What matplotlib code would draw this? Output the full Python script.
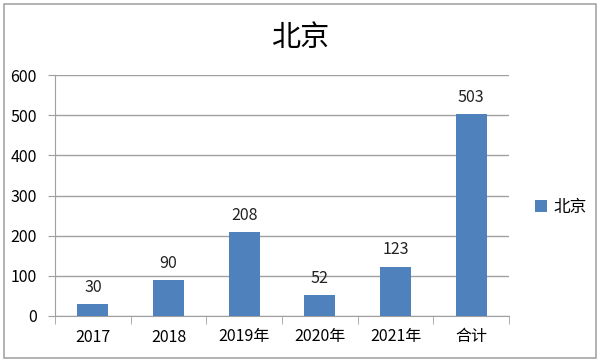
import matplotlib
matplotlib.use("Agg")
import matplotlib.pyplot as plt
from matplotlib.patches import Rectangle

plt.rcParams['font.family'] = ['Noto Sans CJK SC', 'DejaVu Sans']

categories = ["2017", "2018", "2019年", "2020年", "2021年", "合计"]
values = [30, 90, 208, 52, 123, 503]
series_name = "北京"
yticks = [0, 100, 200, 300, 400, 500, 600]

fig = plt.figure(figsize=(6, 3.62), dpi=100)
fig.patches.append(Rectangle((4/600, 4/362), 592/600, 354/362, transform=fig.transFigure,
                             fill=False, edgecolor="#a6a6a6", linewidth=1.2))
ax = fig.add_axes([55/600, 1 - 316/362, (509 - 55)/600, (316 - 75)/362])

x = range(len(categories))
bars = ax.bar(x, values, width=0.41, color="#4F81BD", label=series_name, zorder=3)
for xi, v in zip(x, values):
    ax.annotate(str(v), (xi, v), xytext=(0, 6), textcoords="offset points",
                ha="center", va="bottom", fontsize=11.5, color="#222222")

ax.set_xlim(-0.5, len(categories) - 0.5)
ax.set_ylim(0, 600)
ax.set_yticks(yticks)
ax.set_yticklabels([str(t) for t in yticks], fontsize=11.5)
ax.yaxis.grid(True, color="#a0a0a0", linewidth=1, zorder=0)
ax.tick_params(axis="y", length=5, color="#a0a0a0", pad=8)

ax.set_xticks(list(x))
ax.set_xticklabels(categories, fontsize=11.5)
ax.tick_params(axis="x", length=0, pad=9)
ax.set_xticks([i - 0.5 for i in range(len(categories) + 1)], minor=True)
ax.tick_params(axis="x", which="minor", length=6, color="#a0a0a0")

for s in ["top", "right"]:
    ax.spines[s].set_visible(False)
ax.spines["left"].set_color("#a0a0a0")
ax.spines["bottom"].set_color("#a0a0a0")

fig.text(300/600, 1 - 38/362, "北京", ha="center", va="center", fontsize=21)

leg = ax.legend(loc="center left", bbox_to_anchor=(1.025, 0.45), frameon=False,
                fontsize=12, handlelength=0.7, handleheight=0.7, handletextpad=0.4)

fig.savefig("out.png", dpi=100)
